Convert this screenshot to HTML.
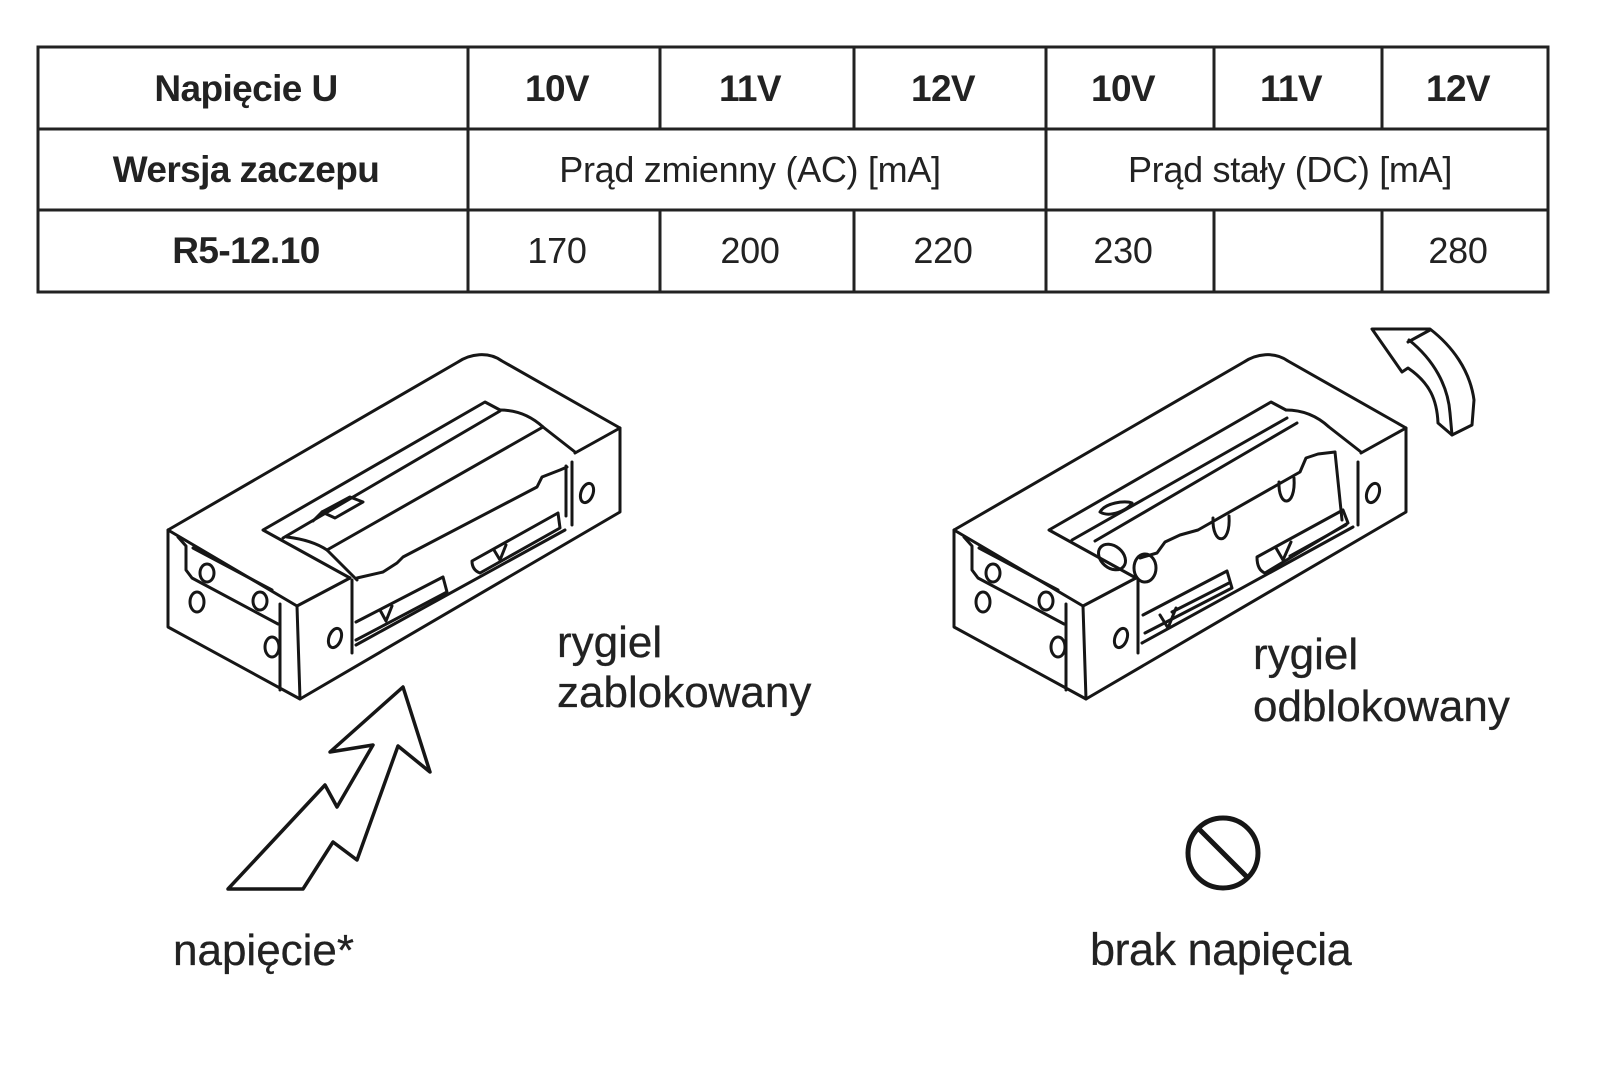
<!DOCTYPE html>
<html>
<head>
<meta charset="utf-8">
<style>
  html, body { margin: 0; padding: 0; background: #ffffff; }
  body { width: 1600px; height: 1070px; overflow: hidden; position: relative; }
  svg { position: absolute; left: 0; top: 0; }
  .tb { font-family: "Liberation Sans", Arial, sans-serif; font-weight: bold; font-size: 37px; letter-spacing: -0.6px; fill: #222; }
  .tr { font-family: "Liberation Sans", Arial, sans-serif; font-weight: normal; font-size: 36px; letter-spacing: -0.3px; fill: #222; }
  .lb { font-family: "Liberation Sans", Arial, sans-serif; font-size: 44px; fill: #222; stroke: #222; stroke-width: 0.3px; }
</style>
</head>
<body>
<svg width="1600" height="1070" viewBox="0 0 1600 1070" xmlns="http://www.w3.org/2000/svg">
  <!-- TABLE -->
  <g stroke="#222" stroke-width="3" fill="none">
    <rect x="38" y="47" width="1510" height="245"/>
    <line x1="38" y1="129" x2="1548" y2="129"/>
    <line x1="38" y1="210" x2="1548" y2="210"/>
    <line x1="468" y1="47" x2="468" y2="292"/>
    <line x1="1046" y1="47" x2="1046" y2="292"/>
    <line x1="660" y1="47" x2="660" y2="129"/>
    <line x1="660" y1="210" x2="660" y2="292"/>
    <line x1="854" y1="47" x2="854" y2="129"/>
    <line x1="854" y1="210" x2="854" y2="292"/>
    <line x1="1214" y1="47" x2="1214" y2="129"/>
    <line x1="1214" y1="210" x2="1214" y2="292"/>
    <line x1="1382" y1="47" x2="1382" y2="129"/>
    <line x1="1382" y1="210" x2="1382" y2="292"/>
  </g>
  <g text-anchor="middle">
    <text class="tb" x="246" y="101">Napięcie U</text>
    <text class="tb" x="557" y="101">10V</text>
    <text class="tb" x="750" y="101">11V</text>
    <text class="tb" x="943" y="101">12V</text>
    <text class="tb" x="1123" y="101">10V</text>
    <text class="tb" x="1291" y="101">11V</text>
    <text class="tb" x="1458" y="101">12V</text>

    <text class="tb" x="246" y="182">Wersja zaczepu</text>
    <text class="tr" x="750" y="182">Prąd zmienny (AC) [mA]</text>
    <text class="tr" x="1290" y="182">Prąd stały (DC) [mA]</text>

    <text class="tb" x="246" y="263">R5-12.10</text>
    <text class="tr" x="557" y="263">170</text>
    <text class="tr" x="750" y="263">200</text>
    <text class="tr" x="943" y="263">220</text>
    <text class="tr" x="1123" y="263">230</text>
    <text class="tr" x="1458" y="263">280</text>
  </g>

  <!-- LOCK BODY (shared) -->
  <defs>
    <g id="body">
      <path d="M168,530 L458,362 C470,354 488,351 502,361 L620,428 L620,512 L300,699 L168,627 Z"/>
      <path d="M168,530 L297,606 L300,699"/>
      <path d="M297,606 L350,578"/>
      <path d="M575,453 L620,428"/>
      <!-- left end face -->
      <path d="M178,537 L186,546 L186,570 L192,578 L278,624"/>
      <path d="M193,548 L272,590"/>
      <ellipse cx="207" cy="573" rx="7" ry="9"/>
      <ellipse cx="260" cy="601" rx="7" ry="9"/>
      <ellipse cx="197" cy="602" rx="7" ry="10"/>
      <ellipse cx="272" cy="647" rx="7" ry="10"/>
      <path d="M280,604 L280,690"/>
      <!-- front face -->
      <path d="M352,580 L352,653"/>
      <ellipse cx="335" cy="638" rx="6" ry="10" transform="rotate(20 335 638)"/>
      <!-- right end -->
      <path d="M572,462 L572,525"/>
      <ellipse cx="587" cy="493" rx="6" ry="10" transform="rotate(20 587 493)"/>
      <!-- opening -->
      <path d="M350,578 L263,530 L485,402 L500,410"/>
      <path d="M500,410 C515,410 530,415 543,427 L575,452"/>
    </g>
  </defs>

  <g fill="none" stroke="#161616" stroke-width="3" stroke-linejoin="round" stroke-linecap="round">
    <!-- LEFT LOCK -->
    <use href="#body"/>
    <!-- left lock bolt -->
    <path d="M283,538 L500,411"/>
    <path d="M327,550 L543,427"/>
    <path d="M287,537 Q312,540 327,550 L357,580"/>
    <path d="M357,578 L383,572 L397,563 L403,557 L537,487 L542,477 L560,470 L567,467"/>
    <path d="M566,466 L566,516"/>
    <path d="M322,512 L350,497 L363,502 L335,518 Z"/>
    <path d="M313,521 L322,512"/>
    <!-- left lock slots -->
    <path d="M356,622 L443,577 L447,592 L356,640"/>
    <path d="M380,610 L386,621 L392,606"/>
    <path d="M356,645 L565,530"/>
    <path d="M472,561 L558,513 L560,528 L480,573 Q472,570 472,561 Z"/>
    <path d="M494,550 L500,560 L506,545"/>

    <!-- RIGHT LOCK -->
    <use href="#body" transform="translate(786,0)"/>
    <path d="M1072,540 L1287,418"/>
    <path d="M1095,541 L1297,423"/>
    <ellipse cx="1112" cy="557" rx="15" ry="11" transform="rotate(40 1112 557)"/>
    <ellipse cx="1145" cy="568" rx="11" ry="14"/>
    <path d="M1140,558 L1157,553 L1165,542 L1180,535 L1198,530 L1300,472 L1306,458 L1318,454 L1335,452"/>
    <path d="M1335,452 L1342,520"/>
    <path d="M1213,518 C1212,546 1231,546 1229,516"/>
    <path d="M1279,482 C1278,508 1296,508 1294,478"/>
    <path d="M1100,512 C1105,503 1125,500 1132,503 C1128,510 1110,518 1100,512 Z"/>
    <!-- right lock slots -->
    <path d="M1143,615 L1227,571 L1232,588 L1145,633"/>
    <path d="M1160,615 L1168,628 L1176,608"/>
    <path d="M1172,612 L1229,583"/>
    <path d="M1142,643 L1353,527"/>
    <path d="M1257,557 L1343,510 L1348,523 L1265,573 Q1257,570 1257,557 Z"/>
    <path d="M1276,548 L1283,560 L1291,542"/>
    <path d="M1290,556 L1346,525"/>

    <!-- curved arrow (top right) -->
    <path d="M1372,329 L1430,329 C1452,346 1470,370 1474,400 L1472,425 L1452,435 L1438,423 C1437,400 1430,383 1408,368 L1402,372 Z"/>
    <path d="M1409,340 C1434,360 1448,386 1450,413 L1452,435"/>
    <path d="M1408,342 L1430,330"/>

    <!-- lightning arrow -->
    <path d="M403,687 L430,772 L398,746 L357,860 L333,842 L303,889 L228,889 L325,785 L337,807 L373,745 L330,752 Z" stroke-width="3.5"/>

    <!-- no symbol -->
    <circle cx="1223" cy="853" r="35" stroke-width="5"/>
    <path d="M1199,829 L1247,877" stroke-width="5"/>
  </g>

  <!-- LABELS -->
  <text class="lb" x="557" y="657">rygiel</text>
  <text class="lb" x="557" y="707">zablokowany</text>
  <text class="lb" x="1253" y="669">rygiel</text>
  <text class="lb" x="1253" y="721">odblokowany</text>
  <text class="lb" x="173" y="965">napięcie*</text>
  <text class="lb" x="1090" y="965" style="font-size:45px; letter-spacing:-0.5px">brak napięcia</text>
</svg>
</body>
</html>
